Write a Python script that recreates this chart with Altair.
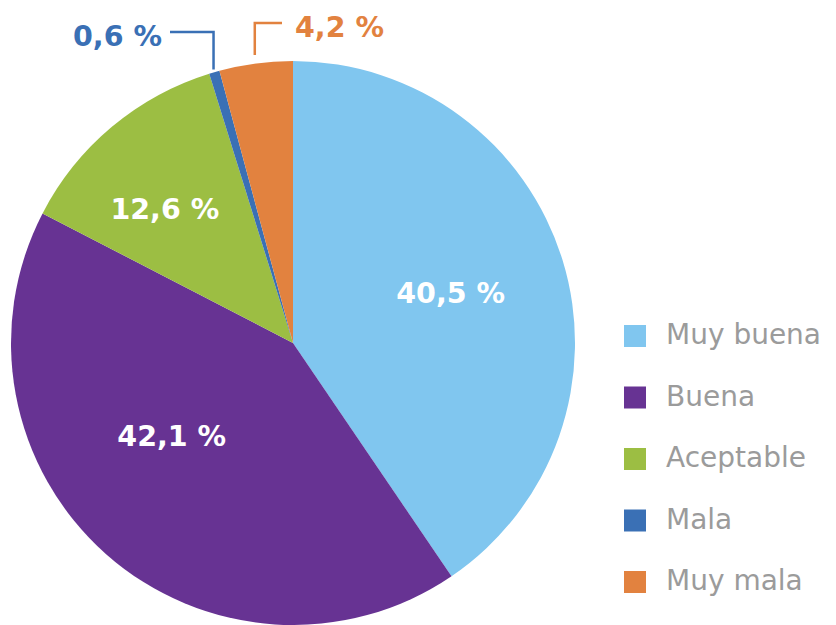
import altair as alt
import numpy as np
import pandas as pd

# ---- data ----
CATEGORIES = ["Muy buena", "Buena", "Aceptable", "Mala", "Muy mala"]
VALUES = [40.5, 42.1, 12.6, 0.6, 4.2]
LABELS = ["40,5 %", "42,1 %", "12,6 %", "0,6 %", "4,2 %"]

# ---- style ----
COLORS = ["#80C6EF", "#673393", "#9CBE43", "#3A70B5", "#E2823F"]
W, H = 820, 617
CX, CY = 285, 335          # pie centre (chart coords)
R = 282                    # pie radius
INSIDE = {"Muy buena": (0.0, 0.585), "Buena": (10.5, 0.545), "Aceptable": (-4.0, 0.655)}
# outside labels: (start radius frac, elbow height frac, horizontal end x offset, align)
OUTSIDE = {"Mala": (1.01, 1.103, -123, "right"), "Muy mala": (1.03, 1.135, -11, "left")}
LABEL_FONT = "DejaVu Sans"
LABEL_SIZE = 28.5

vals = np.array(VALUES)
start = np.cumsum(vals) - vals
mid_deg = (start + vals / 2) / vals.sum() * 360.0

df = pd.DataFrame({"cat": CATEGORIES, "value": VALUES, "label": LABELS,
                   "order": range(len(CATEGORIES)), "mid": mid_deg})

# positions in pixel units relative to the centre (y up)
xsc = alt.Scale(domain=[-CX, W - CX], range=[0, W])
ysc = alt.Scale(domain=[-(H - CY), CY], range=[H, 0])

inside_rows = []
for c, lab, m in zip(CATEGORIES, LABELS, mid_deg):
    if c in INSIDE:
        sh, rf = INSIDE[c]
        a = np.deg2rad(m + sh)
        inside_rows.append({"cat": c, "label": lab,
                            "px": R * rf * np.sin(a), "py": R * rf * np.cos(a)})
inside_df = pd.DataFrame(inside_rows)

line_rows, out_rows = [], []
for c, lab, m in zip(CATEGORIES, LABELS, mid_deg):
    if c in OUTSIDE:
        rf, ef, xe, al = OUTSIDE[c]
        a = np.deg2rad(m)
        x0, y0 = R * rf * np.sin(a), R * rf * np.cos(a)
        ye = R * ef
        for i, (xx, yy) in enumerate([(x0, y0), (x0, ye), (xe, ye)]):
            line_rows.append({"cat": c, "i": i, "px": xx, "py": yy})
        tx = xe - 8 if al == "right" else xe + 13
        out_rows.append({"cat": c, "label": lab, "px": tx, "py": ye - 14.5, "align": al})
line_df = pd.DataFrame(line_rows)
out_df = pd.DataFrame(out_rows)

color = alt.Color("cat:N", scale=alt.Scale(domain=CATEGORIES, range=COLORS),
                  sort=CATEGORIES,
                  legend=alt.Legend(title=None, orient="none", legendX=613, legendY=314,
                                    symbolType="square", symbolSize=484,
                                    symbolStrokeWidth=0, symbolOpacity=1,
                                    labelFont="DejaVu Sans", labelFontSize=28,
                                    labelColor="#9B9B9B", labelOffset=17,
                                    rowPadding=33.5, padding=0))

pie = alt.Chart(df).mark_arc(outerRadius=R).encode(
    theta=alt.Theta("value:Q", stack=True, scale=alt.Scale(domain=[0, 100])),
    order=alt.Order("order:Q"),
    color=color,
    x=alt.value(CX), y=alt.value(CY),
)

inside_txt = alt.Chart(inside_df).mark_text(
    font=LABEL_FONT, fontWeight="bold", fontSize=LABEL_SIZE, color="#FFFFFF",
    align="center", baseline="middle").encode(
    x=alt.X("px:Q", scale=xsc, axis=None),
    y=alt.Y("py:Q", scale=ysc, axis=None),
    text="label:N",
)

lines = alt.Chart(line_df).mark_line(strokeWidth=2.5, strokeCap="butt", strokeJoin="miter").encode(
    x=alt.X("px:Q", scale=xsc, axis=None),
    y=alt.Y("py:Q", scale=ysc, axis=None),
    order="i:Q",
    detail="cat:N",
    color=alt.Color("cat:N", scale=alt.Scale(domain=CATEGORIES, range=COLORS), legend=None),
)

out_right = alt.Chart(out_df[out_df["align"] == "right"]).mark_text(
    font=LABEL_FONT, fontWeight="bold", fontSize=LABEL_SIZE, align="right",
    baseline="alphabetic").encode(
    x=alt.X("px:Q", scale=xsc, axis=None),
    y=alt.Y("py:Q", scale=ysc, axis=None),
    text="label:N",
    color=alt.Color("cat:N", scale=alt.Scale(domain=CATEGORIES, range=COLORS), legend=None),
)
out_left = alt.Chart(out_df[out_df["align"] == "left"]).mark_text(
    font=LABEL_FONT, fontWeight="bold", fontSize=LABEL_SIZE, align="left",
    baseline="alphabetic").encode(
    x=alt.X("px:Q", scale=xsc, axis=None),
    y=alt.Y("py:Q", scale=ysc, axis=None),
    text="label:N",
    color=alt.Color("cat:N", scale=alt.Scale(domain=CATEGORIES, range=COLORS), legend=None),
)

chart = alt.layer(pie, lines, inside_txt, out_right, out_left).properties(
    width=W, height=H, autosize="none", padding=0, background="#FFFFFF"
).configure_view(stroke=None)

chart.save("out.html", embed_options={"renderer": "svg", "actions": False})
